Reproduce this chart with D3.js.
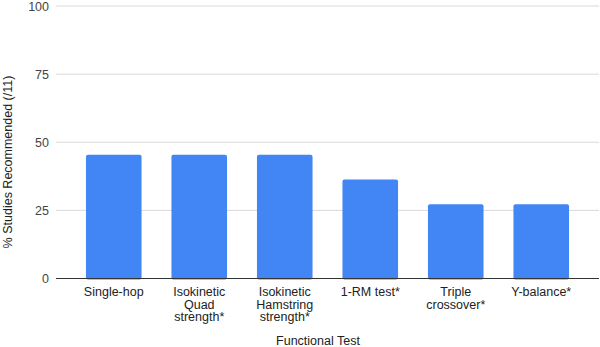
<!DOCTYPE html>
<html>
<head>
<meta charset="utf-8">
<script src="https://cdn.jsdelivr.net/npm/d3@7"></script>
<style>
  body { margin: 0; background: #fff; }
  svg { display: block; font-family: Arial, "Liberation Sans", sans-serif; }
</style>
</head>
<body>
<svg id="chart" width="600" height="347"></svg>
<script>
// categories (multi-line labels) and share of studies recommending each test
const categories = [
  ['Single-hop'],
  ['Isokinetic', 'Quad', 'strength*'],
  ['Isokinetic', 'Hamstring', 'strength*'],
  ['1-RM test*'],
  ['Triple', 'crossover*'],
  ['Y-balance*']
];
const values = [45.45, 45.45, 45.45, 36.36, 27.27, 27.27];
const yTicks = [0, 25, 50, 75, 100];

const svg = d3.select('#chart');

/* Scales */
let x = d3.scaleBand()
    .domain(d3.range(categories.length))
    .range([71, 584])
    .paddingInner(0.35)
    .paddingOuter(0.175);
let y = d3.scaleLinear()
    .domain([0, 100])
    .range([278.5, 6]);

/* Grid lines */
svg.append('g')
    .attr('class', 'y-grid-lines')
    .selectAll('line')
    .data(yTicks.filter(d => d > 0))
    .join('line')
    .attr('x1', 56)
    .attr('x2', 599)
    .attr('y1', d => y(d))
    .attr('y2', d => y(d))
    .attr('stroke', '#d9d9d9')
    .attr('stroke-width', 1);

/* Y axis tick labels */
let yAxis = d3.axisLeft(y).tickValues(yTicks).tickSize(0).tickPadding(7);
svg.append('g')
    .attr('class', 'y-axis')
    .attr('transform', 'translate(56,0)')
    .call(yAxis)
    .call(g => g.select('.domain').remove())
    .selectAll('text')
    .attr('font-size', 12.5)
    .attr('font-family', 'Arial, "Liberation Sans", sans-serif')
    .attr('fill', '#444');

/* Bars */
svg.append('g')
    .attr('class', 'bars')
    .selectAll('rect')
    .data(values)
    .join('rect')
    .attr('x', (d, i) => x(i))
    .attr('y', d => y(d))
    .attr('width', x.bandwidth())
    .attr('height', d => y(0) - y(d) + 1)
    .attr('rx', 2)
    .attr('fill', '#4285f4');

/* Baseline */
svg.append('line')
    .attr('x1', 56)
    .attr('x2', 599)
    .attr('y1', y(0))
    .attr('y2', y(0))
    .attr('stroke', '#333')
    .attr('stroke-width', 1);

/* X tick labels */
let xLabels = svg.append('g')
    .attr('class', 'x-tick-labels')
    .selectAll('text')
    .data(categories)
    .join('text')
    .attr('x', (d, i) => x(i) + x.bandwidth() / 2)
    .attr('y', 296)
    .attr('text-anchor', 'middle')
    .attr('font-size', 12.5)
    .attr('fill', '#222');
xLabels.selectAll('tspan')
    .data(d => d)
    .join('tspan')
    .attr('x', function() { return this.parentNode.getAttribute('x'); })
    .attr('dy', (d, i) => i === 0 ? 0 : 12.7)
    .text(d => d);

/* Axis titles */
svg.append('text')
    .attr('x', 318)
    .attr('y', 345)
    .attr('text-anchor', 'middle')
    .attr('font-size', 12.5)
    .attr('fill', '#222')
    .text('Functional Test');

svg.append('text')
    .attr('transform', 'translate(11.5,162) rotate(-90)')
    .attr('text-anchor', 'middle')
    .attr('font-size', 12.5)
    .attr('fill', '#222')
    .text('% Studies Recommended (/11)');
</script>
</body>
</html>
